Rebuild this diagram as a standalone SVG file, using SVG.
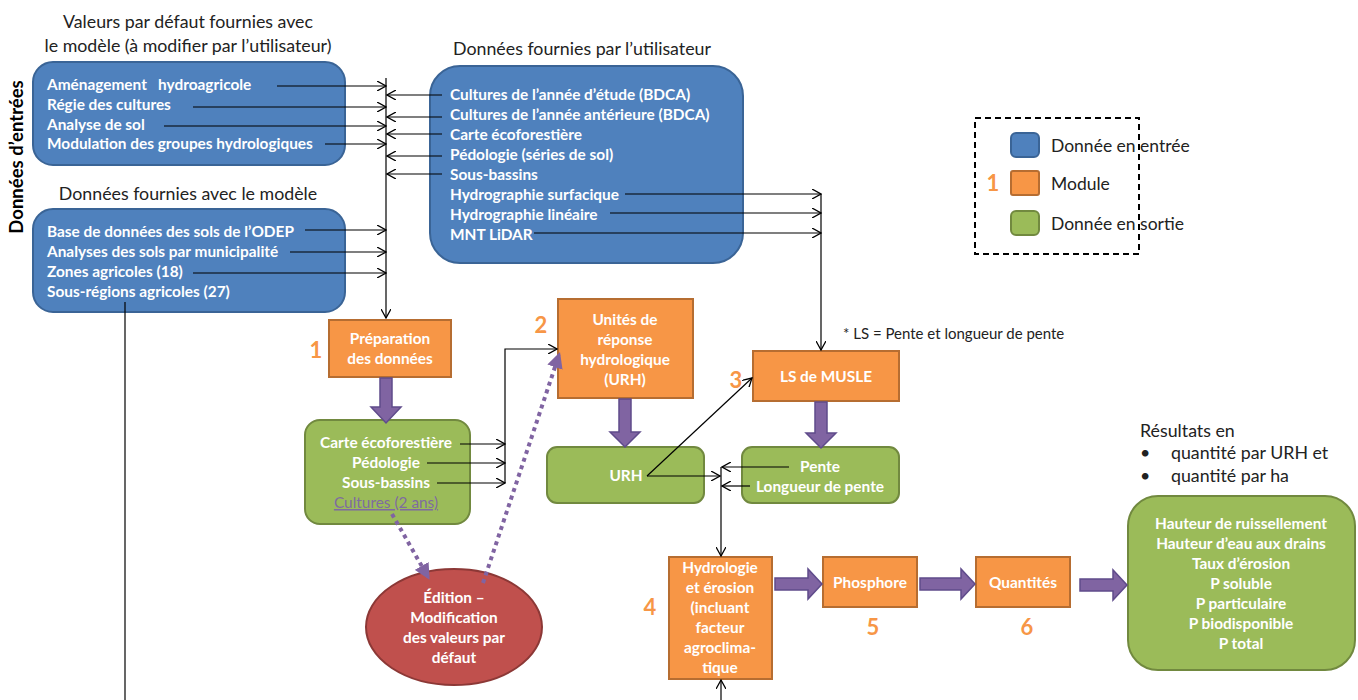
<svg xmlns="http://www.w3.org/2000/svg" width="1358" height="700" viewBox="0 0 1358 700">
<style>
.t{font-family:Lato,"Liberation Sans",sans-serif;font-size:15.4px;font-weight:bold;fill:#fff}
.c{text-anchor:middle}
.h{font-family:Lato,"Liberation Sans",sans-serif;font-size:17.8px;fill:#222}
.s{font-family:Lato,"Liberation Sans",sans-serif;font-size:15px;fill:#222}
.lg{font-family:Lato,"Liberation Sans",sans-serif;font-size:17.5px;fill:#222}
.n{font-family:Lato,"Liberation Sans",sans-serif;font-size:22px;font-weight:bold;fill:#F79646;text-anchor:middle}
.blue{fill:#4F81BD;stroke:#3A6496;stroke-width:2}
.or{fill:#F79646;stroke:#B66D31;stroke-width:2}
.gr{fill:#9BBB59;stroke:#71893F;stroke-width:2}
.ln{fill:none;stroke:#000;stroke-width:1.2}
.pa{fill:#8064A2;stroke:#5F4B8B;stroke-width:1.5}
.dot{fill:none;stroke:#8064A2;stroke-width:4;stroke-dasharray:4 4}
</style>
<defs>
<marker id="a" viewBox="0 0 10 10" refX="9" refY="5" markerWidth="10" markerHeight="10" markerUnits="userSpaceOnUse" orient="auto">
<path d="M0,0 L9,5 L0,10" fill="none" stroke="#000" stroke-width="1.3"/>
</marker>
<marker id="pd" viewBox="0 0 10 10" refX="8" refY="5" markerWidth="4" markerHeight="4" orient="auto">
<path d="M0,0 L10,5 L0,10 z" fill="#8064A2"/>
</marker>
</defs>
<rect width="1358" height="700" fill="#fff"/>

<g id="titles">
<text class="h c" x="188" y="28">Valeurs par défaut fournies avec</text>
<text class="h c" x="188" y="52">le modèle (à modifier par l’utilisateur)</text>
<text class="h c" x="188" y="200">Données fournies avec le modèle</text>
<text class="h c" x="582" y="55">Données fournies par l’utilisateur</text>
<text x="23" y="157" transform="rotate(-90 23 157)" text-anchor="middle" style="font-family:Lato,'Liberation Sans',sans-serif;font-size:18.5px;font-weight:bold;fill:#000">Données d’entrées</text>
<text class="s" x="843" y="339">* LS = Pente et longueur de pente</text>
<text class="h" x="1140" y="437">Résultats en</text>
<text class="h" x="1140" y="459">•</text>
<text class="h" x="1171" y="459">quantité par URH et</text>
<text class="h" x="1140" y="482">•</text>
<text class="h" x="1171" y="482">quantité par ha</text>
</g>

<g id="legend">
<rect x="975" y="118" width="164" height="136" fill="none" stroke="#000" stroke-width="2" stroke-dasharray="6 4"/>
<rect class="blue" x="1011" y="133" width="28" height="24" rx="5"/>
<text class="lg" x="1051" y="152">Donnée en entrée</text>
<text class="n" x="993" y="191">1</text>
<rect class="or" x="1011" y="171" width="28" height="24" rx="2"/>
<text class="lg" x="1051" y="190">Module</text>
<rect class="gr" x="1011" y="211" width="28" height="24" rx="5"/>
<text class="lg" x="1051" y="230">Donnée en sortie</text>
</g>

<g id="defaults">
<rect class="blue" x="33" y="62" width="312" height="103" rx="20"/>
<text class="t" x="47" y="90" style="white-space:pre" xml:space="preserve">Aménagement   hydroagricole</text>
<text class="t" x="47" y="110">Régie des cultures</text>
<text class="t" x="47" y="130">Analyse de sol</text>
<text class="t" x="47" y="149">Modulation des groupes hydrologiques</text>
</g>

<g id="model-data">
<rect class="blue" x="33" y="209" width="312" height="103" rx="20"/>
<text class="t" x="47" y="237">Base de données des sols de l’ODEP</text>
<text class="t" x="47" y="257">Analyses des sols par municipalité</text>
<text class="t" x="47" y="277">Zones agricoles (18)</text>
<text class="t" x="47" y="297">Sous-régions agricoles (27)</text>
</g>

<g id="user-data">
<rect class="blue" x="430" y="66" width="313" height="197" rx="30"/>
<text class="t" x="450" y="100">Cultures de l’année d’étude (BDCA)</text>
<text class="t" x="450" y="120">Cultures de l’année antérieure (BDCA)</text>
<text class="t" x="450" y="140">Carte écoforestière</text>
<text class="t" x="450" y="160">Pédologie (séries de sol)</text>
<text class="t" x="450" y="180">Sous-bassins</text>
<text class="t" x="450" y="200">Hydrographie surfacique</text>
<text class="t" x="450" y="220">Hydrographie linéaire</text>
<text class="t" x="450" y="240">MNT LiDAR</text>
</g>

<g id="prep">
<rect class="or" x="329" y="320" width="122" height="57"/>
<text class="t c" x="390" y="344">Préparation</text>
<text class="t c" x="390" y="364">des données</text>
<text class="n" x="316" y="358">1</text>
</g>

<g id="prep-out">
<rect class="gr" x="305" y="420" width="165" height="104" rx="15"/>
<text class="t c" x="386" y="448">Carte écoforestière</text>
<text class="t c" x="386" y="468">Pédologie</text>
<text class="t c" x="386" y="488">Sous-bassins</text>
<text class="t c" x="386" y="508" style="fill:#7F6BA0;font-weight:normal;text-decoration:underline">Cultures (2 ans)</text>
</g>

<g id="urh-module">
<rect class="or" x="558" y="299" width="135" height="99"/>
<text class="t c" x="625" y="325">Unités de</text>
<text class="t c" x="625" y="345">réponse</text>
<text class="t c" x="625" y="365">hydrologique</text>
<text class="t c" x="625" y="385">(URH)</text>
<text class="n" x="541" y="333">2</text>
</g>

<g id="urh">
<rect class="gr" x="547" y="447" width="157" height="56" rx="10"/>
<text class="t c" x="626" y="481">URH</text>
</g>

<g id="ls">
<rect class="or" x="753" y="351" width="146" height="50"/>
<text class="t c" x="826" y="382">LS de MUSLE</text>
<text class="n" x="736" y="388">3</text>
</g>

<g id="pente">
<rect class="gr" x="742" y="447" width="157" height="56" rx="10"/>
<text class="t c" x="820" y="472">Pente</text>
<text class="t c" x="820" y="492">Longueur de pente</text>
</g>

<g id="edition">
<ellipse cx="454" cy="627" rx="88" ry="58" fill="#C0504D" stroke="#8C3836" stroke-width="2"/>
<text class="t c" x="454" y="603">Édition –</text>
<text class="t c" x="454" y="623">Modification</text>
<text class="t c" x="454" y="643">des valeurs par</text>
<text class="t c" x="454" y="663">défaut</text>
</g>

<g id="hydro">
<rect class="or" x="669" y="557" width="103" height="122"/>
<text class="t c" x="720" y="573">Hydrologie</text>
<text class="t c" x="720" y="593">et érosion</text>
<text class="t c" x="720" y="613">(incluant</text>
<text class="t c" x="720" y="633">facteur</text>
<text class="t c" x="720" y="653">agroclima-</text>
<text class="t c" x="720" y="673">tique</text>
<text class="n" x="650" y="615">4</text>
</g>

<g id="phosphore">
<rect class="or" x="823" y="557" width="94" height="50"/>
<text class="t c" x="870" y="588">Phosphore</text>
<text class="n" x="873" y="635">5</text>
</g>

<g id="quantites">
<rect class="or" x="976" y="557" width="94" height="50"/>
<text class="t c" x="1023" y="588">Quantités</text>
<text class="n" x="1027" y="635">6</text>
</g>

<g id="results">
<rect class="gr" x="1128" y="496" width="227" height="174" rx="30"/>
<text class="t c" x="1241" y="529">Hauteur de ruissellement</text>
<text class="t c" x="1241" y="549">Hauteur d’eau aux drains</text>
<text class="t c" x="1241" y="569">Taux d’érosion</text>
<text class="t c" x="1241" y="589">P soluble</text>
<text class="t c" x="1241" y="609">P particulaire</text>
<text class="t c" x="1241" y="629">P biodisponible</text>
<text class="t c" x="1241" y="649">P total</text>
</g>

<g id="connectors">
<line class="ln" x1="386" y1="78" x2="386" y2="318" marker-end="url(#a)"/>
<line class="ln" x1="277" y1="86" x2="386" y2="86" marker-end="url(#a)"/>
<line class="ln" x1="193" y1="107" x2="386" y2="107" marker-end="url(#a)"/>
<line class="ln" x1="164" y1="126" x2="386" y2="126" marker-end="url(#a)"/>
<line class="ln" x1="325" y1="144" x2="386" y2="144" marker-end="url(#a)"/>
<line class="ln" x1="305" y1="230" x2="386" y2="230" marker-end="url(#a)"/>
<line class="ln" x1="290" y1="252" x2="386" y2="252" marker-end="url(#a)"/>
<line class="ln" x1="193" y1="273" x2="386" y2="273" marker-end="url(#a)"/>
<line class="ln" x1="442" y1="95" x2="387" y2="95" marker-end="url(#a)"/>
<line class="ln" x1="442" y1="117" x2="387" y2="117" marker-end="url(#a)"/>
<line class="ln" x1="442" y1="134" x2="387" y2="134" marker-end="url(#a)"/>
<line class="ln" x1="442" y1="156" x2="387" y2="156" marker-end="url(#a)"/>
<line class="ln" x1="442" y1="174" x2="387" y2="174" marker-end="url(#a)"/>
<line class="ln" x1="125" y1="302" x2="125" y2="700"/>
<line class="ln" x1="625" y1="194" x2="821" y2="194" marker-end="url(#a)"/>
<line class="ln" x1="610" y1="213" x2="821" y2="213" marker-end="url(#a)"/>
<line class="ln" x1="534" y1="233" x2="821" y2="233" marker-end="url(#a)"/>
<line class="ln" x1="821" y1="194" x2="821" y2="350" marker-end="url(#a)"/>
<line class="ln" x1="460" y1="444" x2="505" y2="444" marker-end="url(#a)"/>
<line class="ln" x1="427" y1="463" x2="505" y2="463" marker-end="url(#a)"/>
<line class="ln" x1="437" y1="483" x2="505" y2="483" marker-end="url(#a)"/>
<polyline class="ln" points="505,483 505,349 557,349" marker-end="url(#a)"/>
<line class="ln" x1="647" y1="476" x2="752" y2="378" marker-end="url(#a)"/>
<line class="ln" x1="647" y1="476" x2="720" y2="476" marker-end="url(#a)"/>
<line class="ln" x1="789" y1="467" x2="722" y2="467" marker-end="url(#a)"/>
<line class="ln" x1="750" y1="486" x2="722" y2="486" marker-end="url(#a)"/>
<line class="ln" x1="721" y1="467" x2="721" y2="556" marker-end="url(#a)"/>
<line class="ln" x1="721" y1="700" x2="721" y2="680" marker-end="url(#a)"/>
<line class="dot" x1="392" y1="514" x2="428" y2="577" marker-end="url(#pd)"/>
<line class="dot" x1="483" y1="583" x2="559" y2="355" marker-end="url(#pd)"/>
<polygon class="pa" points="380,378 392,378 392,407 401,407 386,423 371,407 380,407"/>
<polygon class="pa" points="619,399 631,399 631,432 640,432 625,447 610,432 619,432"/>
<polygon class="pa" points="815,402 827,402 827,433 836,433 821,448 806,433 815,433"/>
<polygon class="pa" points="775,578 808,578 808,569 822,584 808,599 808,590 775,590"/>
<polygon class="pa" points="920,578 961,578 961,569 975,584 961,599 961,590 920,590"/>
<polygon class="pa" points="1080,579 1113,579 1113,570 1127,585 1113,600 1113,591 1080,591"/>
</g>
</svg>
